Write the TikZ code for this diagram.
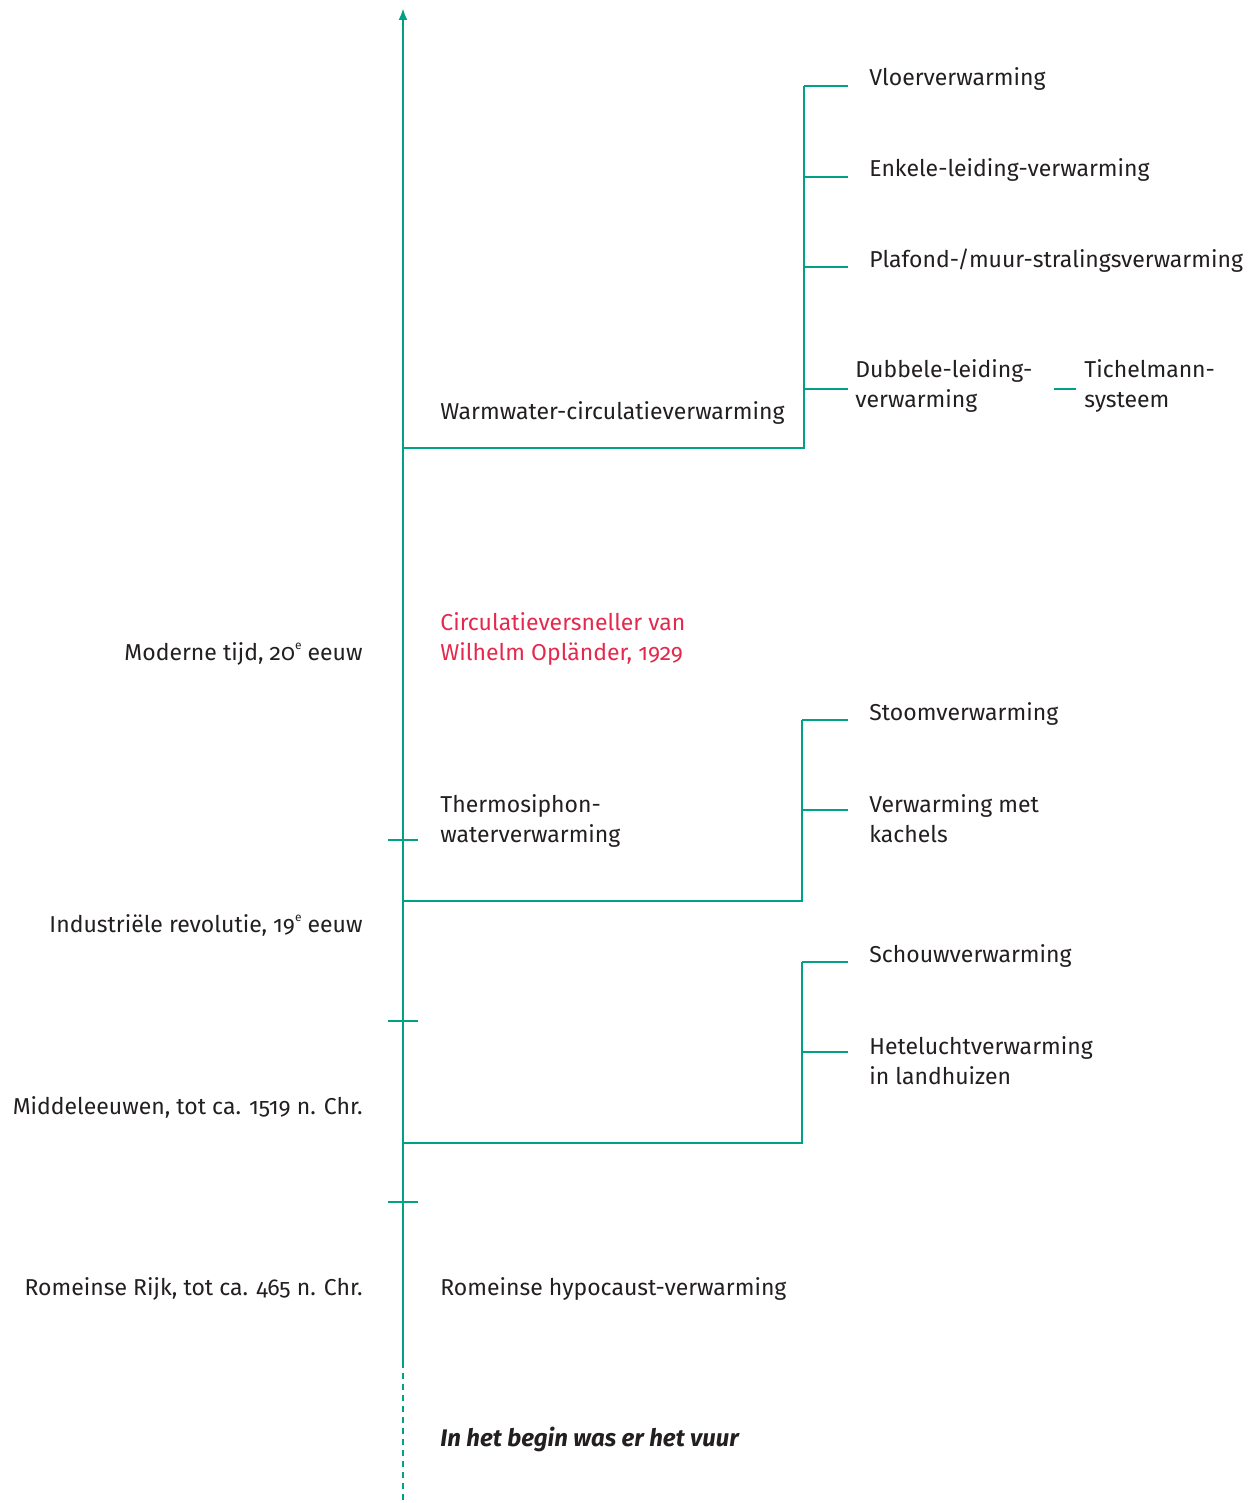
\documentclass[tikz,border=0pt]{standalone}
\usepackage{fontspec}
\setmainfont[Numbers=OldStyle]{Fira Sans}
\usetikzlibrary{arrows.meta}
\definecolor{wgreen}{HTML}{00A187}
\definecolor{wred}{HTML}{E4294D}
\definecolor{wtext}{HTML}{231F20}

\begin{document}
\begin{tikzpicture}[x=0.5pt, y=-0.5pt,
  axis/.style={wgreen, line width=1.3pt},
  branch/.style={wgreen, line width=1pt},
  label/.style={wtext, font=\fontsize{11.5}{15}\selectfont, inner sep=0pt, align=left},
  era/.style={label, anchor=base east}]
\useasboundingbox (0,0) rectangle (1253,1503);

% time axis
\coordinate (axbot) at (403,1362);
\coordinate (axtop) at (403,8);
\coordinate (axend) at (403,1503);
\draw[axis, -{Latex[length=6pt,width=4.5pt]}] (axbot) -- (axtop);
\draw[axis, dash pattern=on 3pt off 2.5pt] (axbot) -- (axend);
\foreach \y in {840,1021,1202}
  \draw[axis] (388,\y) -- (418,\y);

% eras
\node[era] (modern) at (363,660) {Moderne tijd, 20\raisebox{0.85ex}{\fontsize{6}{6}\selectfont e} eeuw};
\node[era] (indus) at (363,932) {Industriële revolutie, 19\raisebox{0.85ex}{\fontsize{6}{6}\selectfont e} eeuw};
\node[era] (middel) at (363,1114) {Middeleeuwen, tot ca. 1519 n. Chr.};
\node[era] (rome) at (363,1295) {Romeinse Rijk, tot ca. 465 n. Chr.};

% warm water
\coordinate (wroot) at (403,448);
\coordinate (wcorner) at (804,448);
\coordinate (wtop) at (804,86);
\draw[branch] (wroot) -- (wcorner) -- (wtop);
\node[label, anchor=base west] (warm) at (440,419) {Warmwater-circulatieverwarming};
\node[label, anchor=base west] (vloer) at (869,86) {Vloerverwarming};
\node[label, anchor=base west] (enkel) at (869,177) {Enkele-leiding-verwarming};
\node[label, anchor=base west] (plafond) at (869,267) {Plafond-/muur-stralingsverwarming};
\node[label, anchor=base west] (dubbel) at (855,407) {Dubbele-leiding-\\verwarming};
\node[label, anchor=base west] (tichel) at (1084,407) {Tichelmann-\\systeem};
\foreach \n in {vloer,enkel,plafond}
  \draw[branch] (wtop |- \n.base) -- ([xshift=-10.5pt]\n.base west);
\coordinate (d1) at ([yshift=-2pt]dubbel.west);
\draw[branch] (wtop |- d1) -- ([xshift=-3.5pt]d1);
\draw[branch] ([xshift=-15pt,yshift=-2pt]tichel.west) -- ([xshift=-4pt,yshift=-2pt]tichel.west);

% pump
\node[label, wred, anchor=base west] (pump) at (440,660) {Circulatieversneller van\\Wilhelm Opländer, 1929};

% steam
\coordinate (sroot) at (403,901);
\coordinate (scorner) at (802,901);
\coordinate (stop) at (802,720);
\draw[branch] (sroot) -- (scorner) -- (stop);
\node[label, anchor=base west] (thermo) at (440,842) {Thermosiphon-\\waterverwarming};
\node[label, anchor=base west] (stoom) at (869,720) {Stoomverwarming};
\node[label, anchor=base west] (kachel) at (869,842) {Verwarming met\\kachels};
\coordinate (k1) at ([yshift=16pt]kachel.base west);
\draw[branch] (stop |- stoom.base) -- ([xshift=-10.5pt]stoom.base west);
\draw[branch] (stop |- k1) -- ([xshift=-10.5pt]k1);

% chimney
\coordinate (croot) at (403,1143);
\coordinate (ccorner) at (802,1143);
\coordinate (ctop) at (802,962);
\draw[branch] (croot) -- (ccorner) -- (ctop);
\node[label, anchor=base west] (schouw) at (869,962) {Schouwverwarming};
\node[label, anchor=base west] (hetel) at (869,1084) {Heteluchtverwarming\\in landhuizen};
\coordinate (h1) at ([yshift=16pt]hetel.base west);
\draw[branch] (ctop |- schouw.base) -- ([xshift=-10.5pt]schouw.base west);
\draw[branch] (ctop |- h1) -- ([xshift=-10.5pt]h1);

% roman
\node[label, anchor=base west] (hypo) at (440,1295) {Romeinse hypocaust-verwarming};
\node[label, font=\fontsize{12}{15}\selectfont\bfseries\itshape, anchor=base west] (vuur) at (440,1446) {In het begin was er het vuur};

\end{tikzpicture}
\end{document}
